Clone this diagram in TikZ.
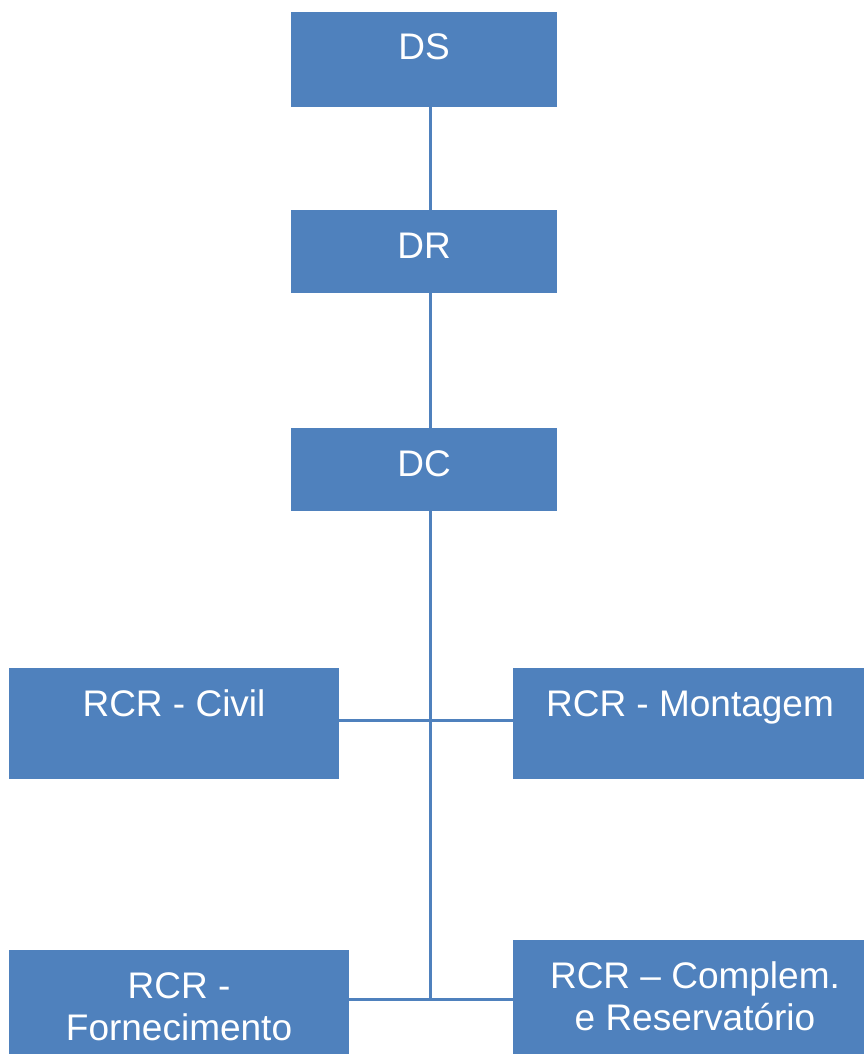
\documentclass[tikz,border=0pt]{standalone}
\usepackage{fontspec}
\setmainfont{Liberation Sans}
\definecolor{boxblue}{HTML}{4F81BD}
\begin{document}
\begin{tikzpicture}[x=1pt,y=-1pt,
  box/.style={fill=boxblue,draw=none,inner sep=0pt},
  lbl/.style={text=white,font=\fontsize{37}{43}\selectfont,anchor=base,inner sep=0pt,align=center},
  conn/.style={draw=boxblue,line width=3pt}]
\useasboundingbox (0,0) rectangle (864,1054);
% boxes
\node[box,minimum width=266pt,minimum height=95pt] (DS) at (424,59.5) {};
\node[box,minimum width=266pt,minimum height=83pt] (DR) at (424,251.5) {};
\node[box,minimum width=266pt,minimum height=83pt] (DC) at (424,469.5) {};
\node[box,minimum width=330pt,minimum height=111pt] (CIV) at (174,723.5) {};
\node[box,minimum width=351pt,minimum height=111pt] (MON) at (688.5,723.5) {};
\node[box,minimum width=340pt,minimum height=110pt] (FOR) at (179,1005) {};
\node[box,minimum width=351pt,minimum height=120pt] (COM) at (688.5,1000) {};
% labels
\node[lbl] (tDS) at (424,60) {DS};
\node[lbl] (tDR) at (424,258) {DR};
\node[lbl] (tDC) at (424,476) {DC};
\node[lbl] (tCIV) at (174,716) {RCR - Civil};
\node[lbl] (tMON) at (690,716) {RCR - Montagem};
\node[lbl] (tFOR1) at (179,998) {RCR -};
\node[lbl] (tFOR2) at (179,1040) {Fornecimento};
\node[lbl] (tCOM1) at (695,988) {RCR – Complem.};
\node[lbl] (tCOM2) at (695,1030) {e Reservatório};
% connectors
\coordinate (j1) at (430,720);
\coordinate (j2) at (430,999);
\draw[conn] (DS.south -| j1) -- (DR.north -| j1);
\draw[conn] (DR.south -| j1) -- (DC.north -| j1);
\draw[conn] (DC.south -| j1) -- (j2);
\draw[conn] (CIV.east |- j1) -- (MON.west |- j1);
\draw[conn] (FOR.east |- j2) -- (j2) -- (COM.west |- j2);
\end{tikzpicture}
\end{document}
